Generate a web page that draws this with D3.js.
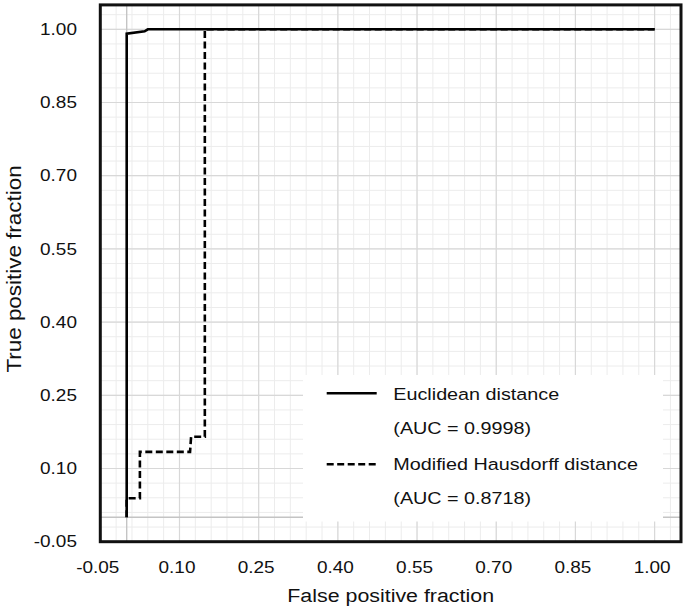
<!DOCTYPE html>
<html>
<head>
<meta charset="utf-8">
<script src="https://cdn.jsdelivr.net/npm/d3@7"></script>
<style>
  body { margin: 0; background: #fff; }
  text { font-family: "Liberation Sans", Arial, sans-serif; fill: #111; }
</style>
</head>
<body>
<script>
  // ROC points
  const euclidFpr = [0, 0, 0.034, 0.04, 1.0];
  const euclidTpr = [0, 0.991, 0.996, 1.0, 1.0];
  const mhdFpr = [0, 0, 0.025, 0.025, 0.12, 0.122, 0.148, 0.148, 1.0];
  const mhdTpr = [0, 0.039, 0.039, 0.134, 0.134, 0.165, 0.165, 1.0, 1.0];

  const tickValues = [-0.05, 0.10, 0.25, 0.40, 0.55, 0.70, 0.85, 1.00];
  const legendLabels = ['Euclidean distance', '(AUC = 0.9998)', 'Modified Hausdorff distance', '(AUC = 0.8718)'];
  const xTitle = 'False positive fraction';
  const yTitle = 'True positive fraction';

  const width = 685;
  const height = 610;
  const stretch = 1.15; // the original font is a bit wider than Arial

  const svg = d3.select('body')
    .append('svg')
    .attr('width', width)
    .attr('height', height);

  const x = d3.scaleLinear().domain([-0.05, 1.05]).range([100.3, 681]);
  const y = d3.scaleLinear().domain([-0.05, 1.05]).range([541.7, 4.9]);

  // plain hyphen for negatives, like the original
  const fmt = (d) => d3.format('.2f')(d).replace('\u2212', '-');

  // grid: minor every 0.03, major every 0.15
  const minor = d3.range(0, 37).map((k) => -0.05 + 0.03 * k);
  const major = tickValues;

  const grid = svg.append('g');
  grid.selectAll('.vminor').data(minor).join('line')
    .attr('x1', (d) => x(d)).attr('x2', (d) => x(d))
    .attr('y1', y(1.05)).attr('y2', y(-0.05))
    .attr('stroke', '#ececec').attr('stroke-width', 1);
  grid.selectAll('.hminor').data(minor).join('line')
    .attr('y1', (d) => y(d)).attr('y2', (d) => y(d))
    .attr('x1', x(-0.05)).attr('x2', x(1.05))
    .attr('stroke', '#ececec').attr('stroke-width', 1);
  grid.selectAll('.vmajor').data(major).join('line')
    .attr('x1', (d) => x(d)).attr('x2', (d) => x(d))
    .attr('y1', y(1.05)).attr('y2', y(-0.05))
    .attr('stroke', '#d8d8d8').attr('stroke-width', 1.2);
  grid.selectAll('.hmajor').data(major).join('line')
    .attr('y1', (d) => y(d)).attr('y2', (d) => y(d))
    .attr('x1', x(-0.05)).attr('x2', x(1.05))
    .attr('stroke', '#d8d8d8').attr('stroke-width', 1.2);
  // zero lines
  grid.append('line')
    .attr('x1', x(0)).attr('x2', x(0))
    .attr('y1', y(1.05)).attr('y2', y(-0.05))
    .attr('stroke', '#c4c4c4').attr('stroke-width', 1.4);
  grid.append('line')
    .attr('y1', y(0)).attr('y2', y(0))
    .attr('x1', x(-0.05)).attr('x2', x(1.05))
    .attr('stroke', '#c4c4c4').attr('stroke-width', 1.4);

  // legend background hides the grid
  svg.append('rect')
    .attr('x', 303).attr('y', 375)
    .attr('width', 360).attr('height', 146.5)
    .attr('fill', '#fff');

  const line = d3.line().x((d) => x(d[0])).y((d) => y(d[1]));

  svg.append('path')
    .datum(mhdFpr.map((d, i) => [d, mhdTpr[i]]))
    .attr('d', line)
    .attr('fill', 'none')
    .attr('stroke', '#000')
    .attr('stroke-width', 2.6)
    .attr('stroke-dasharray', '7,3.5');

  svg.append('path')
    .datum(euclidFpr.map((d, i) => [d, euclidTpr[i]]))
    .attr('d', line)
    .attr('fill', 'none')
    .attr('stroke', '#000')
    .attr('stroke-width', 2.6);

  // axes
  const yAxis = svg.append('g')
    .attr('transform', `translate(${x(-0.05)},0)`)
    .call(d3.axisLeft(y).tickValues(tickValues).tickFormat(fmt).tickSize(0).tickPadding(20.3));
  const xAxis = svg.append('g')
    .attr('transform', `translate(0,${y(-0.05)})`)
    .call(d3.axisBottom(x).tickValues(tickValues).tickFormat(fmt).tickSize(0).tickPadding(20));
  [yAxis, xAxis].forEach((a) => {
    a.select('.domain').remove();
    a.selectAll('text')
      .attr('font-family', '"Liberation Sans", Arial, sans-serif')
      .attr('font-size', 16.5)
      .attr('fill', '#111')
      .attr('transform', `scale(${stretch},1)`);
  });
  xAxis.selectAll('text').attr('x', -3 / stretch);

  // axis titles
  svg.append('text')
    .attr('transform', `translate(${(x(-0.05) + x(1.05)) / 2},601.5) scale(${stretch},1)`)
    .attr('text-anchor', 'middle')
    .attr('font-size', 18.6)
    .text(xTitle);
  svg.append('text')
    .attr('transform', `translate(20.7,269) rotate(-90) scale(${stretch},1)`)
    .attr('text-anchor', 'middle')
    .attr('font-size', 19.5)
    .text(yTitle);

  // legend
  const lg = svg.append('g');
  lg.append('line')
    .attr('x1', 326.7).attr('x2', 376.7)
    .attr('y1', 393.3).attr('y2', 393.3)
    .attr('stroke', '#000').attr('stroke-width', 2.6);
  lg.append('line')
    .attr('x1', 326.7).attr('x2', 376.7)
    .attr('y1', 464.3).attr('y2', 464.3)
    .attr('stroke', '#000').attr('stroke-width', 2.6)
    .attr('stroke-dasharray', '7,3.5');
  const baselines = [400, 433.5, 469.5, 504];
  lg.selectAll('text').data(legendLabels).join('text')
    .attr('transform', (d, i) => `translate(393.3,${baselines[i]}) scale(${stretch},1)`)
    .attr('font-size', 17.2)
    .text((d) => d);

  // frame
  svg.append('rect')
    .attr('x', x(-0.05)).attr('y', y(1.05))
    .attr('width', x(1.05) - x(-0.05))
    .attr('height', y(-0.05) - y(1.05))
    .attr('fill', 'none')
    .attr('stroke', '#111')
    .attr('stroke-width', 3);
</script>
</body>
</html>
